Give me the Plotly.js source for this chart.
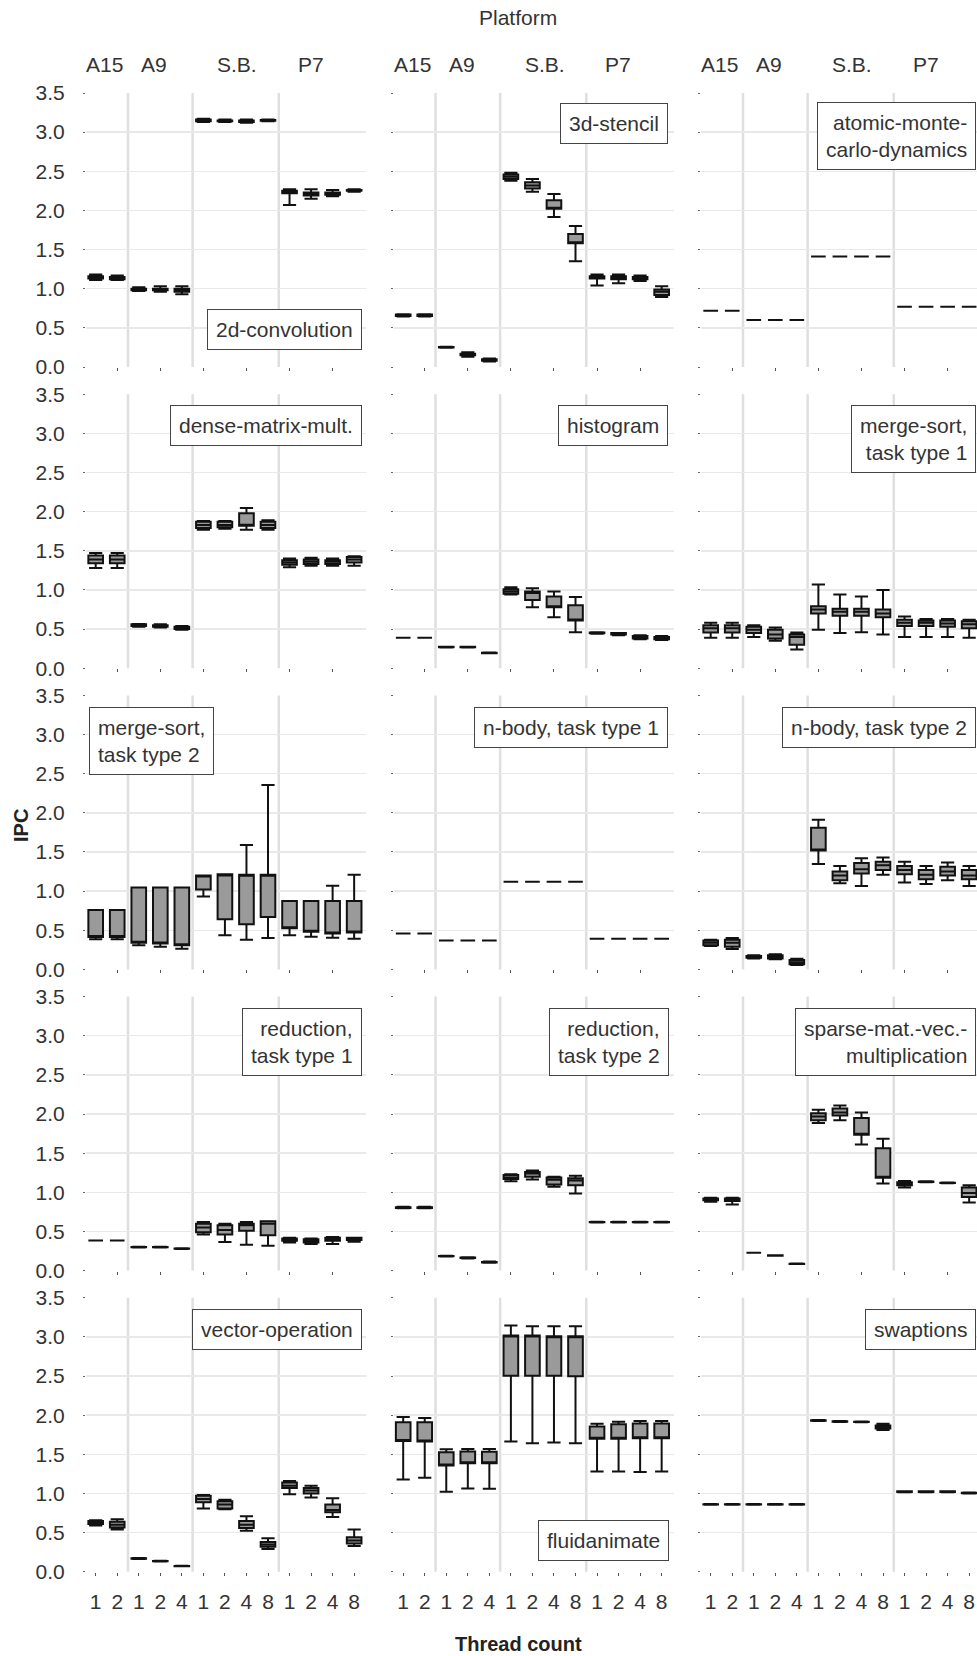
<!DOCTYPE html>
<html><head><meta charset="utf-8">
<script src="https://cdn.plot.ly/plotly-3.0.1.min.js"></script>
<style>html,body{margin:0;padding:0;background:#fff;}#chart{width:977px;height:1656px;}</style>
</head><body><div id="chart"></div>
<script>
// ---------- DATA ----------
const platforms = ['A15', 'A9', 'S.B.', 'P7'];
const threadLabels = ['1','2','1','2','4','1','2','4','8','1','2','4','8'];
const platformSeparators = [1.5, 4.5, 8.5];
const panelNames = [
  '2d-convolution', '3d-stencil', 'atomic-monte-<br>carlo-dynamics',
  'dense-matrix-mult.', 'histogram', 'merge-sort,<br>task type 1',
  'merge-sort,<br>task type 2', 'n-body, task type 1', 'n-body, task type 2',
  'reduction,<br>task type 1', 'reduction,<br>task type 2', 'sparse-mat.-vec.-<br>multiplication',
  'vector-operation', 'fluidanimate', 'swaptions'
];
// each box: [lowerfence, q1, median, q3, upperfence]
const conv2d = [
  [1.11,1.13,1.15,1.16,1.18],[1.11,1.12,1.14,1.15,1.17],
  [0.97,0.98,0.99,1.00,1.02],[0.96,0.98,0.99,1.00,1.03],[0.93,0.96,0.98,1.00,1.03],
  [3.13,3.14,3.15,3.16,3.17],[3.13,3.14,3.145,3.15,3.16],[3.12,3.13,3.14,3.15,3.16],[3.14,3.145,3.15,3.155,3.16],
  [2.07,2.22,2.24,2.25,2.27],[2.15,2.19,2.21,2.23,2.27],[2.18,2.20,2.21,2.23,2.26],[2.24,2.25,2.255,2.26,2.27]
];
const stencil3d = [
  [0.645,0.65,0.66,0.67,0.675],[0.645,0.65,0.66,0.67,0.675],
  [0.245,0.25,0.25,0.255,0.26],[0.13,0.15,0.16,0.17,0.19],[0.07,0.08,0.09,0.10,0.11],
  [2.38,2.40,2.43,2.46,2.48],[2.24,2.28,2.32,2.36,2.40],[1.915,2.02,2.03,2.13,2.21],[1.35,1.58,1.59,1.70,1.80],
  [1.04,1.13,1.15,1.16,1.18],[1.07,1.12,1.14,1.16,1.18],[1.10,1.12,1.13,1.15,1.17],[0.895,0.92,0.96,0.99,1.03]
];
const atomicMC = [
  [0.72,0.72,0.72,0.72,0.72],[0.72,0.72,0.72,0.72,0.72],
  [0.60,0.60,0.60,0.60,0.60],[0.60,0.60,0.60,0.60,0.60],[0.60,0.60,0.60,0.60,0.60],
  [1.41,1.41,1.41,1.41,1.41],[1.41,1.41,1.41,1.41,1.41],[1.41,1.41,1.41,1.41,1.41],[1.41,1.41,1.41,1.41,1.41],
  [0.77,0.77,0.77,0.77,0.77],[0.77,0.77,0.77,0.77,0.77],[0.77,0.77,0.77,0.77,0.77],[0.77,0.77,0.77,0.77,0.77]
];
const denseMM = [
  [1.28,1.34,1.39,1.44,1.47],[1.28,1.34,1.39,1.44,1.47],
  [0.53,0.54,0.55,0.56,0.565],[0.52,0.53,0.54,0.55,0.56],[0.49,0.50,0.52,0.53,0.54],
  [1.77,1.79,1.83,1.87,1.88],[1.78,1.80,1.83,1.87,1.88],[1.77,1.82,1.83,1.98,2.045],[1.77,1.79,1.83,1.87,1.89],
  [1.29,1.32,1.35,1.38,1.40],[1.31,1.33,1.36,1.39,1.41],[1.31,1.33,1.36,1.38,1.40],[1.31,1.35,1.39,1.42,1.43]
];
const histogram = [
  [0.39,0.39,0.39,0.39,0.39],[0.39,0.39,0.39,0.39,0.39],
  [0.265,0.267,0.27,0.273,0.275],[0.265,0.267,0.27,0.273,0.275],[0.19,0.192,0.195,0.198,0.20],
  [0.94,0.95,0.98,1.01,1.035],[0.78,0.87,0.96,0.98,1.02],[0.65,0.78,0.79,0.915,0.98],[0.46,0.61,0.62,0.805,0.91],
  [0.44,0.445,0.45,0.455,0.46],[0.42,0.43,0.44,0.45,0.45],[0.37,0.38,0.40,0.41,0.42],[0.36,0.37,0.38,0.40,0.41]
];
const mergeSort1 = [
  [0.39,0.455,0.51,0.55,0.58],[0.39,0.455,0.51,0.55,0.58],
  [0.40,0.45,0.49,0.53,0.55],[0.35,0.38,0.43,0.49,0.52],[0.24,0.30,0.40,0.43,0.455],
  [0.49,0.70,0.75,0.79,1.07],[0.45,0.67,0.72,0.76,0.94],[0.46,0.67,0.72,0.76,0.915],[0.43,0.65,0.70,0.75,1.00],
  [0.40,0.54,0.58,0.62,0.66],[0.40,0.54,0.58,0.61,0.63],[0.40,0.53,0.57,0.61,0.63],[0.39,0.51,0.56,0.60,0.62]
];
const mergeSort2 = [
  [0.385,0.415,0.42,0.76,0.76],[0.385,0.415,0.42,0.76,0.76],
  [0.31,0.34,0.35,1.045,1.045],[0.29,0.33,0.34,1.045,1.045],[0.265,0.31,0.32,1.045,1.045],
  [0.93,1.02,1.19,1.20,1.20],[0.435,0.64,1.20,1.215,1.215],[0.38,0.576,1.20,1.208,1.59],[0.40,0.67,1.20,1.208,2.356],
  [0.435,0.525,0.53,0.875,0.875],[0.418,0.48,0.49,0.875,0.875],[0.405,0.46,0.47,0.875,1.067],[0.393,0.47,0.48,0.875,1.208]
];
const nBody1 = [
  [0.46,0.46,0.46,0.46,0.46],[0.46,0.46,0.46,0.46,0.46],
  [0.37,0.37,0.37,0.37,0.37],[0.37,0.37,0.37,0.37,0.37],[0.37,0.37,0.37,0.37,0.37],
  [1.12,1.12,1.12,1.12,1.12],[1.12,1.12,1.12,1.12,1.12],[1.12,1.12,1.12,1.12,1.12],[1.12,1.12,1.12,1.12,1.12],
  [0.39,0.39,0.39,0.39,0.39],[0.39,0.39,0.39,0.39,0.39],[0.39,0.39,0.39,0.39,0.39],[0.39,0.39,0.39,0.39,0.39]
];
const nBody2 = [
  [0.30,0.31,0.34,0.37,0.38],[0.26,0.29,0.34,0.38,0.40],
  [0.14,0.15,0.16,0.17,0.18],[0.13,0.14,0.16,0.18,0.195],[0.055,0.065,0.09,0.12,0.135],
  [1.345,1.52,1.53,1.81,1.91],[1.10,1.14,1.20,1.25,1.32],[1.065,1.225,1.28,1.36,1.42],[1.21,1.27,1.33,1.375,1.43],
  [1.11,1.215,1.27,1.32,1.375],[1.09,1.15,1.21,1.27,1.32],[1.14,1.20,1.25,1.31,1.365],[1.065,1.15,1.20,1.27,1.32]
];
const reduction1 = [
  [0.386,0.386,0.386,0.386,0.386],[0.386,0.386,0.386,0.386,0.386],
  [0.295,0.298,0.30,0.302,0.305],[0.295,0.298,0.30,0.302,0.305],[0.275,0.278,0.28,0.283,0.285],
  [0.46,0.49,0.55,0.60,0.62],[0.365,0.46,0.52,0.58,0.60],[0.33,0.51,0.58,0.60,0.62],[0.317,0.45,0.60,0.63,0.63],
  [0.36,0.38,0.40,0.41,0.42],[0.34,0.36,0.38,0.40,0.41],[0.34,0.38,0.41,0.42,0.43],[0.37,0.39,0.41,0.42,0.42]
];
const reduction2 = [
  [0.795,0.80,0.805,0.81,0.815],[0.795,0.80,0.805,0.81,0.815],
  [0.18,0.182,0.184,0.186,0.19],[0.155,0.16,0.163,0.167,0.17],[0.10,0.103,0.107,0.11,0.115],
  [1.14,1.17,1.19,1.22,1.23],[1.165,1.20,1.24,1.26,1.28],[1.07,1.10,1.16,1.19,1.20],[0.985,1.09,1.15,1.18,1.21],
  [0.615,0.618,0.62,0.622,0.625],[0.615,0.618,0.62,0.622,0.625],[0.615,0.618,0.62,0.622,0.625],[0.615,0.618,0.62,0.622,0.625]
];
const sparseMV = [
  [0.88,0.90,0.91,0.92,0.93],[0.845,0.89,0.90,0.92,0.93],
  [0.227,0.227,0.227,0.227,0.227],[0.19,0.19,0.193,0.195,0.195],[0.083,0.085,0.086,0.088,0.09],
  [1.885,1.92,1.97,2.01,2.056],[1.92,1.98,2.02,2.07,2.11],[1.61,1.735,1.745,1.95,2.02],[1.114,1.187,1.20,1.564,1.684],
  [1.06,1.09,1.11,1.13,1.144],[1.13,1.132,1.135,1.138,1.14],[1.115,1.118,1.12,1.122,1.125],[0.87,0.94,0.99,1.06,1.09]
];
const vectorOp = [
  [0.59,0.61,0.63,0.65,0.66],[0.54,0.565,0.60,0.64,0.67],
  [0.165,0.168,0.17,0.172,0.175],[0.133,0.135,0.137,0.139,0.14],[0.07,0.072,0.073,0.075,0.077],
  [0.81,0.89,0.93,0.97,0.98],[0.80,0.81,0.86,0.90,0.92],[0.525,0.56,0.60,0.65,0.71],[0.29,0.32,0.35,0.38,0.43],
  [0.99,1.07,1.10,1.14,1.16],[0.95,1.00,1.04,1.07,1.10],[0.70,0.76,0.79,0.86,0.94],[0.33,0.36,0.40,0.44,0.54]
];
const fluidanimate = [
  [1.18,1.67,1.68,1.91,1.976],[1.20,1.665,1.665,1.91,1.965],
  [1.024,1.357,1.357,1.528,1.566],[1.063,1.387,1.387,1.536,1.57],[1.06,1.385,1.385,1.535,1.57],
  [1.665,2.505,3.01,3.017,3.146],[1.643,2.505,3.01,3.017,3.137],[1.652,2.505,3.0,3.01,3.137],[1.643,2.497,3.0,3.01,3.137],
  [1.28,1.70,1.70,1.857,1.89],[1.28,1.70,1.70,1.886,1.916],[1.276,1.707,1.707,1.895,1.925],[1.28,1.707,1.707,1.895,1.925]
];
const swaptions = [
  [0.857,0.86,0.862,0.864,0.867],[0.857,0.86,0.862,0.864,0.867],
  [0.857,0.86,0.862,0.864,0.867],[0.857,0.86,0.862,0.864,0.867],[0.857,0.86,0.862,0.864,0.867],
  [1.925,1.93,1.933,1.936,1.94],[1.915,1.918,1.92,1.922,1.925],[1.91,1.913,1.916,1.918,1.92],[1.81,1.83,1.85,1.87,1.89],
  [1.015,1.02,1.024,1.028,1.03],[1.015,1.02,1.024,1.028,1.03],[1.015,1.02,1.024,1.028,1.03],[1.0,1.003,1.007,1.01,1.013]
];
const panelData = [conv2d, stencil3d, atomicMC, denseMM, histogram, mergeSort1,
  mergeSort2, nBody1, nBody2, reduction1, reduction2, sparseMV, vectorOp, fluidanimate, swaptions];

// ---------- LAYOUT GEOMETRY (pixels) ----------
const W = 977, H = 1656;
const colL = [86, 393.5, 701], colW = [280, 280, 276];
const rowT = [93, 394.2, 695.4, 996.6, 1297.8], rowH = 274;
const catPx = 280 / 13;
// name box positions: [side, xEdgePx, vSide, yEdgePx]
const nameBox = [
  ['right', 362, 'bottom', 350], ['right', 668, 'top', 103], ['right', 976, 'top', 102],
  ['right', 362, 'top', 405], ['right', 668, 'top', 405], ['right', 976, 'top', 405],
  ['left', 89, 'top', 707], ['right', 668, 'top', 707], ['right', 976, 'top', 707],
  ['right', 362, 'top', 1008], ['right', 669, 'top', 1008], ['right', 976, 'top', 1008],
  ['right', 362, 'top', 1309], ['right', 669, 'bottom', 1561], ['right', 976, 'top', 1309]
];
const platformLabelPos = [0.42, 2.71, 6.58, 9.99];

const FONT = 'Liberation Sans, Arial, sans-serif';
const TXT = '#333333';
const traces = [], shapes = [], annotations = [];
const layout = {
  width: W, height: H, margin: {l: 0, r: 0, t: 0, b: 0},
  paper_bgcolor: '#fff', plot_bgcolor: '#fff', showlegend: false,
  font: {family: FONT, size: 21, color: TXT},
  boxmode: 'overlay', boxgap: 0, boxgroupgap: 0
};
const xs = threadLabels.map((_, i) => i);

for (let k = 0; k < 15; k++) {
  const r = Math.floor(k / 3), c = k % 3;
  const sfx = k === 0 ? '' : String(k + 1);
  const xa = 'x' + sfx, ya = 'y' + sfx;
  const L = colL[c], w = colW[c], T = rowT[r];
  layout['xaxis' + sfx] = {
    domain: [L / W, (L + w) / W], anchor: ya,
    range: [-0.45, -0.45 + w / catPx], fixedrange: true,
    showgrid: false, zeroline: false, showline: false,
    tickmode: 'array',
    tickvals: r === 4 ? xs : [1, 3, 5, 7, 9, 11],
    ticktext: r === 4 ? threadLabels : ['', '', '', '', '', ''],
    showticklabels: r === 4,
    ticks: 'outside', ticklen: 3, tickwidth: 1, tickcolor: '#555',
    tickfont: {family: FONT, size: 21, color: TXT}, ticklabelstandoff: 8
  };
  layout['yaxis' + sfx] = {
    domain: [1 - (T + rowH) / H, 1 - T / H], anchor: xa,
    range: [0, 3.5], fixedrange: true,
    tickmode: 'linear', tick0: 0, dtick: 0.5, tickformat: '.1f',
    showgrid: true, gridcolor: '#e9e9e9', gridwidth: 1.5,
    zeroline: false, showline: false,
    ticks: 'outside', ticklen: 2, tickwidth: 1, tickcolor: '#666',
    showticklabels: c === 0,
    tickfont: {family: FONT, size: 21, color: TXT}, ticklabelstandoff: 14
  };
  platformSeparators.forEach(s => shapes.push({
    type: 'line', xref: xa, yref: ya + ' domain', x0: s, x1: s, y0: 0, y1: 1,
    line: {color: '#dfdfdf', width: 2.5}, layer: 'below'
  }));
  const d = panelData[k];
  traces.push({
    type: 'box', xaxis: xa, yaxis: ya, x: xs,
    lowerfence: d.map(b => b[0]), q1: d.map(b => b[1]), median: d.map(b => b[2]),
    q3: d.map(b => b[3]), upperfence: d.map(b => b[4]),
    width: 0.68, whiskerwidth: 0.9, boxpoints: false,
    fillcolor: '#9a9a9a', line: {color: '#111', width: 2},
    hoverinfo: 'skip', showlegend: false
  });
  const nb = nameBox[k];
  annotations.push({
    xref: 'paper', yref: 'paper', x: nb[1] / W, y: 1 - nb[3] / H,
    xanchor: nb[0], yanchor: nb[2], align: nb[0],
    text: nameBoxText(panelNames[k]), showarrow: false,
    font: {family: FONT, size: 21, color: TXT},
    bordercolor: '#444', borderwidth: 1, borderpad: 8, bgcolor: '#fff'
  });
  if (r === 0) {
    platforms.forEach((p, i) => annotations.push({
      xref: xa, yref: 'paper', x: platformLabelPos[i], y: 1 - 65 / H,
      xanchor: 'center', yanchor: 'middle', text: p, showarrow: false,
      font: {family: FONT, size: 21, color: TXT}
    }));
  }
}
function nameBoxText(t) { return t; }

annotations.push({xref: 'paper', yref: 'paper', x: 518 / W, y: 1 - 17 / H, xanchor: 'center', yanchor: 'middle',
  text: 'Platform', showarrow: false, font: {family: FONT, size: 21, color: TXT}});
annotations.push({xref: 'paper', yref: 'paper', x: 518 / W, y: 1 - 1644 / H, xanchor: 'center', yanchor: 'middle',
  text: '<b>Thread count</b>', showarrow: false, font: {family: FONT, size: 20, color: '#222'}});
annotations.push({xref: 'paper', yref: 'paper', x: 21 / W, y: 1 - 826 / H, xanchor: 'center', yanchor: 'middle',
  text: '<b>IPC</b>', textangle: -90, showarrow: false, font: {family: FONT, size: 20, color: '#222'}});

layout.shapes = shapes;
layout.annotations = annotations;
Plotly.newPlot('chart', traces, layout, {staticPlot: true, displayModeBar: false});
</script>
</body></html>
